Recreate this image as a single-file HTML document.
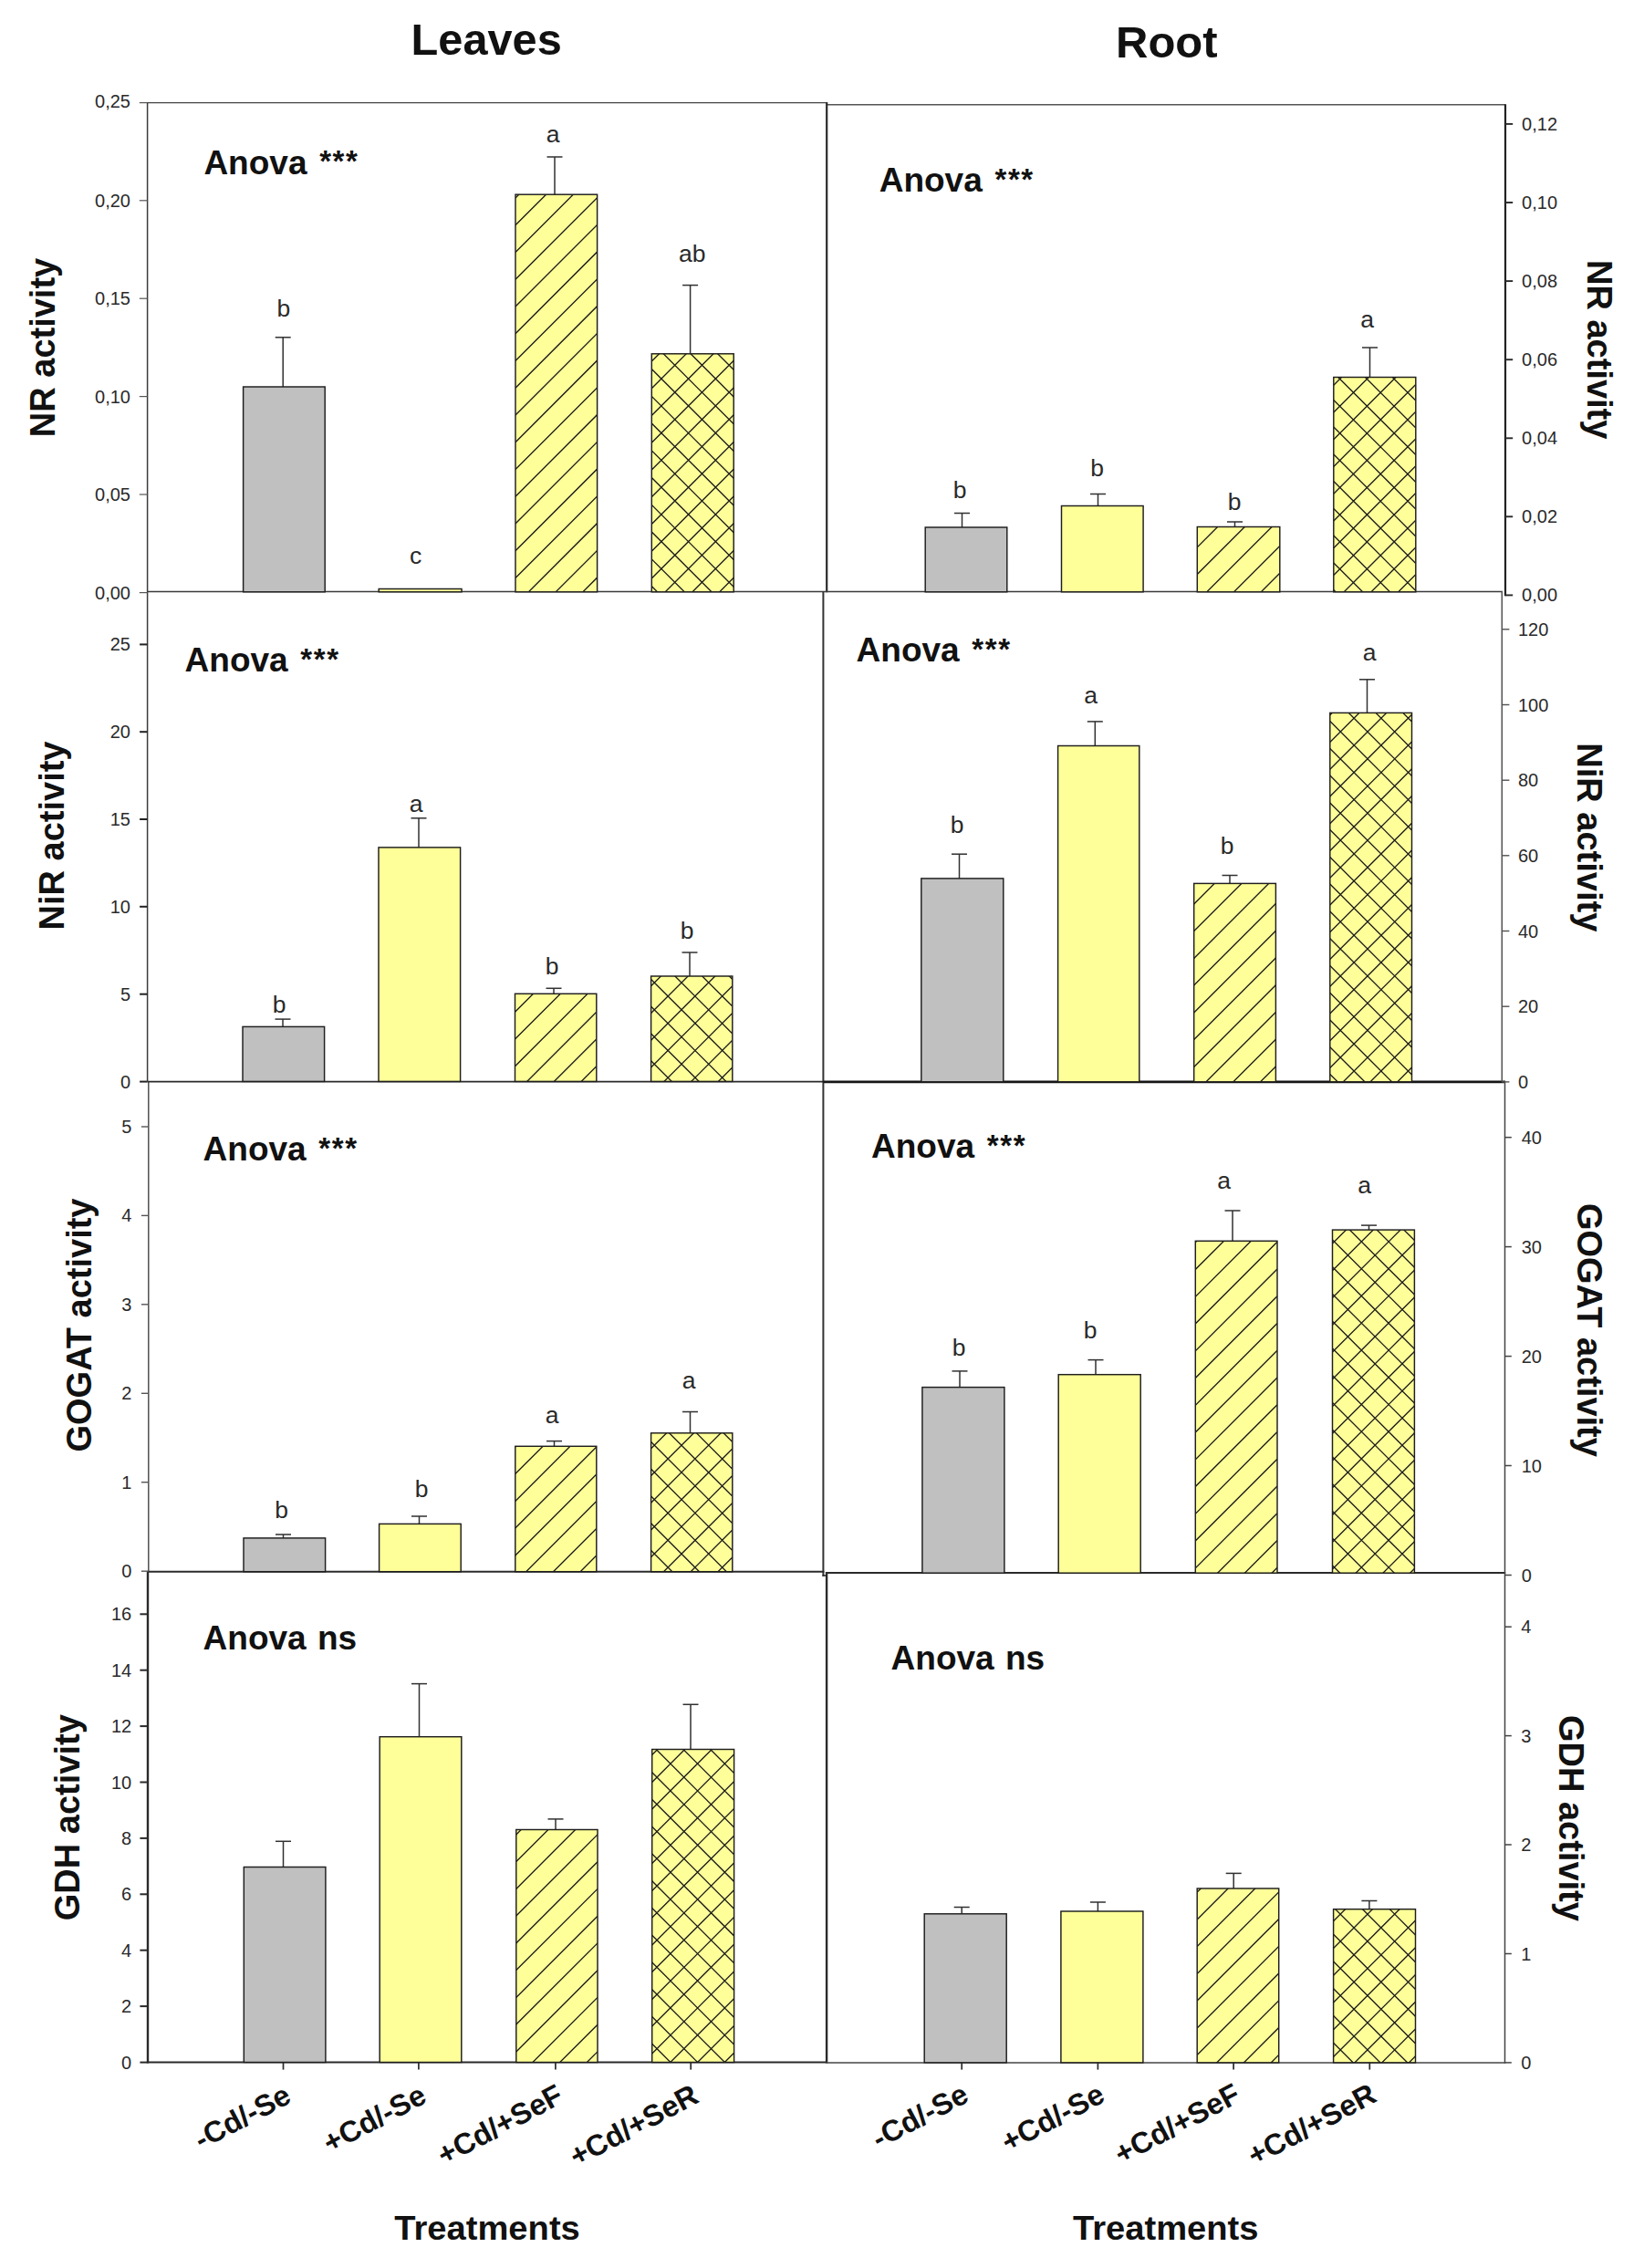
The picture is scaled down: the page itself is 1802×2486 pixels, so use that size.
<!DOCTYPE html>
<html lang="en">
<head>
<meta charset="utf-8">
<title>Enzyme activities in leaves and root</title>
<style>
html,body{margin:0;padding:0;background:#fff;}
svg{display:block;}
svg text{font-family:"Liberation Sans",sans-serif;}
</style>
</head>
<body>
<svg width="1802" height="2486" viewBox="0 0 1802 2486">
<rect x="0" y="0" width="1802" height="2486" fill="#ffffff"/>
<line x1="161.0" y1="112.6" x2="905.5" y2="112.6" stroke="#444" stroke-width="1.4"/>
<line x1="906.0" y1="114.8" x2="1650.0" y2="114.8" stroke="#555" stroke-width="1.5"/>
<line x1="161.6" y1="112.0" x2="161.6" y2="1185.6" stroke="#3a3a3a" stroke-width="1.5"/>
<line x1="162.8" y1="1185.6" x2="162.8" y2="1723.0" stroke="#444" stroke-width="1.4"/>
<line x1="162.0" y1="1722.0" x2="162.0" y2="2261.6" stroke="#2a2a2a" stroke-width="2.4"/>
<line x1="906.2" y1="112.0" x2="906.2" y2="649.3" stroke="#2a2a2a" stroke-width="2.2"/>
<line x1="902.4" y1="648.0" x2="902.4" y2="1727.8" stroke="#333" stroke-width="2.0"/>
<line x1="906.1" y1="1723.2" x2="906.1" y2="2261.6" stroke="#2a2a2a" stroke-width="2.4"/>
<line x1="901.4" y1="1727.0" x2="906.5" y2="1727.0" stroke="#2a2a2a" stroke-width="1.6"/>
<line x1="161.6" y1="648.5" x2="1647.0" y2="648.5" stroke="#3a3a3a" stroke-width="1.5"/>
<line x1="161.6" y1="1185.6" x2="902.4" y2="1185.6" stroke="#2a2a2a" stroke-width="1.9"/>
<line x1="902.4" y1="1185.9" x2="1650.0" y2="1185.9" stroke="#151515" stroke-width="2.9"/>
<line x1="162.0" y1="1722.8" x2="903.4" y2="1722.8" stroke="#2a2a2a" stroke-width="2.1"/>
<line x1="904.9" y1="1724.0" x2="1650.2" y2="1724.0" stroke="#2a2a2a" stroke-width="2.1"/>
<line x1="162.0" y1="2260.6" x2="906.0" y2="2260.6" stroke="#2a2a2a" stroke-width="2.0"/>
<line x1="906.0" y1="2260.9" x2="1650.2" y2="2260.9" stroke="#444" stroke-width="1.5"/>
<line x1="1650.0" y1="114.2" x2="1650.0" y2="653.2" stroke="#222" stroke-width="2.2"/>
<line x1="1646.3" y1="648.0" x2="1646.3" y2="1186.0" stroke="#505050" stroke-width="1.5"/>
<line x1="1649.5" y1="1185.0" x2="1649.5" y2="2261.6" stroke="#444" stroke-width="1.5"/>
<text x="450.6" y="60.3" font-size="48.7" font-weight="bold" fill="#111">Leaves</text>
<text x="1223.0" y="62.8" font-size="49" font-weight="bold" fill="#111">Root</text>
<text x="432.3" y="2454.8" font-size="36.8" font-weight="bold" textLength="203.5" lengthAdjust="spacingAndGlyphs" fill="#111">Treatments</text>
<text x="1176.0" y="2454.8" font-size="36.8" font-weight="bold" textLength="203.5" lengthAdjust="spacingAndGlyphs" fill="#111">Treatments</text>
<text x="59.9" y="381.0" font-size="38" font-weight="bold" text-anchor="middle" transform="rotate(-90 59.9 381.0)" fill="#111">NR activity</text>
<text x="69.6" y="916.0" font-size="38" font-weight="bold" text-anchor="middle" transform="rotate(-90 69.6 916.0)" fill="#111">NiR activity</text>
<text x="99.5" y="1452.5" font-size="38" font-weight="bold" text-anchor="middle" transform="rotate(-90 99.5 1452.5)" fill="#111">GOGAT activity</text>
<text x="87.5" y="1992.2" font-size="38" font-weight="bold" text-anchor="middle" transform="rotate(-90 87.5 1992.2)" fill="#111">GDH activity</text>
<text x="1740.2" y="383.2" font-size="38" font-weight="bold" text-anchor="middle" transform="rotate(90 1740.2 383.2)" fill="#111">NR activity</text>
<text x="1728.5" y="917.8" font-size="38" font-weight="bold" text-anchor="middle" transform="rotate(90 1728.5 917.8)" fill="#111">NiR activity</text>
<text x="1729.1" y="1457.9" font-size="38" font-weight="bold" text-anchor="middle" transform="rotate(90 1729.1 1457.9)" fill="#111">GOGAT activity</text>
<text x="1709.2" y="1992.9" font-size="38" font-weight="bold" text-anchor="middle" transform="rotate(90 1709.2 1992.9)" fill="#111">GDH activity</text>
<line x1="152.8" y1="112.6" x2="161.6" y2="112.6" stroke="#555" stroke-width="1.2"/>
<text x="143.0" y="118.3" font-size="20" text-anchor="end" fill="#2a2a2a">0,25</text>
<line x1="152.8" y1="219.8" x2="161.6" y2="219.8" stroke="#555" stroke-width="1.2"/>
<text x="143.0" y="226.8" font-size="20" text-anchor="end" fill="#2a2a2a">0,20</text>
<line x1="152.8" y1="327.2" x2="161.6" y2="327.2" stroke="#555" stroke-width="1.2"/>
<text x="143.0" y="334.2" font-size="20" text-anchor="end" fill="#2a2a2a">0,15</text>
<line x1="152.8" y1="434.6" x2="161.6" y2="434.6" stroke="#555" stroke-width="1.2"/>
<text x="143.0" y="441.6" font-size="20" text-anchor="end" fill="#2a2a2a">0,10</text>
<line x1="152.8" y1="542.0" x2="161.6" y2="542.0" stroke="#555" stroke-width="1.2"/>
<text x="143.0" y="549.0" font-size="20" text-anchor="end" fill="#2a2a2a">0,05</text>
<line x1="152.8" y1="649.6" x2="161.6" y2="649.6" stroke="#555" stroke-width="1.2"/>
<text x="143.0" y="656.6" font-size="20" text-anchor="end" fill="#2a2a2a">0,00</text>
<line x1="310.2" y1="424.0" x2="310.2" y2="369.8" stroke="#303030" stroke-width="1.5"/>
<line x1="301.7" y1="369.8" x2="318.7" y2="369.8" stroke="#303030" stroke-width="1.5"/>
<rect x="266.6" y="424.0" width="89.6" height="224.8" fill="#c0c0c0"/>
<rect x="266.6" y="424.0" width="89.6" height="224.8" fill="none" stroke="#1e1e1e" stroke-width="1.45"/>
<rect x="415.2" y="645.5" width="90.8" height="3.3" fill="#ffff99"/>
<rect x="415.2" y="645.5" width="90.8" height="3.3" fill="none" stroke="#1e1e1e" stroke-width="1.45"/>
<line x1="608.0" y1="213.2" x2="608.0" y2="172.0" stroke="#303030" stroke-width="1.5"/>
<line x1="599.5" y1="172.0" x2="616.5" y2="172.0" stroke="#303030" stroke-width="1.5"/>
<rect x="565.0" y="213.2" width="89.6" height="435.6" fill="#ffff99"/>
<clipPath id="c1"><rect x="565.0" y="213.2" width="89.6" height="435.6"/></clipPath>
<path clip-path="url(#c1)" d="M565.0 217.0L654.6 127.4M565.0 246.8L654.6 157.2M565.0 276.5L654.6 186.9M565.0 306.2L654.6 216.7M565.0 336.0L654.6 246.4M565.0 365.8L654.6 276.1M565.0 395.5L654.6 305.9M565.0 425.2L654.6 335.6M565.0 455.0L654.6 365.4M565.0 484.8L654.6 395.1M565.0 514.5L654.6 424.9M565.0 544.2L654.6 454.6M565.0 574.0L654.6 484.4M565.0 603.8L654.6 514.1M565.0 633.5L654.6 543.9M565.0 663.2L654.6 573.6M565.0 693.0L654.6 603.4M565.0 722.8L654.6 633.1" stroke="#1e1e1e" stroke-width="1.35" fill="none"/>
<rect x="565.0" y="213.2" width="89.6" height="435.6" fill="none" stroke="#1e1e1e" stroke-width="1.45"/>
<line x1="756.6" y1="387.8" x2="756.6" y2="312.6" stroke="#303030" stroke-width="1.5"/>
<line x1="748.1" y1="312.6" x2="765.1" y2="312.6" stroke="#303030" stroke-width="1.5"/>
<rect x="714.3" y="387.8" width="89.9" height="261.0" fill="#ffff99"/>
<clipPath id="c2"><rect x="714.3" y="387.8" width="89.9" height="261.0"/></clipPath>
<path clip-path="url(#c2)" d="M714.3 396.0L804.2 306.1M714.3 425.7L804.2 335.8M714.3 455.5L804.2 365.6M714.3 485.2L804.2 395.3M714.3 515.0L804.2 425.1M714.3 544.7L804.2 454.8M714.3 574.5L804.2 484.6M714.3 604.2L804.2 514.3M714.3 634.0L804.2 544.1M714.3 663.7L804.2 573.8M714.3 693.5L804.2 603.6M714.3 723.2L804.2 633.3M714.3 315.4L804.2 405.3M714.3 345.1L804.2 435.0M714.3 374.9L804.2 464.8M714.3 404.6L804.2 494.5M714.3 434.4L804.2 524.3M714.3 464.1L804.2 554.0M714.3 493.9L804.2 583.8M714.3 523.6L804.2 613.5M714.3 553.4L804.2 643.3M714.3 583.1L804.2 673.0M714.3 612.9L804.2 702.8M714.3 642.6L804.2 732.5" stroke="#1e1e1e" stroke-width="1.35" fill="none"/>
<rect x="714.3" y="387.8" width="89.9" height="261.0" fill="none" stroke="#1e1e1e" stroke-width="1.45"/>
<text x="310.8" y="347.2" font-size="26.5" text-anchor="middle" fill="#2a2a2a">b</text>
<text x="455.5" y="618.0" font-size="26.5" text-anchor="middle" fill="#2a2a2a">c</text>
<text x="606.0" y="155.6" font-size="26.5" text-anchor="middle" fill="#2a2a2a">a</text>
<text x="758.8" y="287.4" font-size="26.5" text-anchor="middle" fill="#2a2a2a">ab</text>
<text x="223.4" y="190.5" font-size="37" font-weight="bold" fill="#111">Anova <tspan dx="3.4" dy="-2.2" font-size="33" letter-spacing="1.6">***</tspan></text>
<line x1="153.1" y1="706.4" x2="161.6" y2="706.4" stroke="#222" stroke-width="2.0"/>
<text x="143.0" y="713.4" font-size="20" text-anchor="end" fill="#2a2a2a">25</text>
<line x1="153.1" y1="802.2" x2="161.6" y2="802.2" stroke="#222" stroke-width="2.0"/>
<text x="143.0" y="809.2" font-size="20" text-anchor="end" fill="#2a2a2a">20</text>
<line x1="153.1" y1="898.0" x2="161.6" y2="898.0" stroke="#222" stroke-width="2.0"/>
<text x="143.0" y="905.0" font-size="20" text-anchor="end" fill="#2a2a2a">15</text>
<line x1="153.1" y1="993.8" x2="161.6" y2="993.8" stroke="#222" stroke-width="2.0"/>
<text x="143.0" y="1000.8" font-size="20" text-anchor="end" fill="#2a2a2a">10</text>
<line x1="153.1" y1="1089.7" x2="161.6" y2="1089.7" stroke="#222" stroke-width="2.0"/>
<text x="143.0" y="1096.7" font-size="20" text-anchor="end" fill="#2a2a2a">5</text>
<line x1="153.1" y1="1185.6" x2="161.6" y2="1185.6" stroke="#222" stroke-width="2.0"/>
<text x="143.0" y="1192.6" font-size="20" text-anchor="end" fill="#2a2a2a">0</text>
<line x1="310.0" y1="1125.4" x2="310.0" y2="1117.1" stroke="#303030" stroke-width="1.5"/>
<line x1="301.5" y1="1117.1" x2="318.5" y2="1117.1" stroke="#303030" stroke-width="1.5"/>
<rect x="266.0" y="1125.4" width="89.6" height="60.0" fill="#c0c0c0"/>
<rect x="266.0" y="1125.4" width="89.6" height="60.0" fill="none" stroke="#1e1e1e" stroke-width="1.45"/>
<line x1="459.0" y1="928.9" x2="459.0" y2="896.8" stroke="#303030" stroke-width="1.5"/>
<line x1="450.5" y1="896.8" x2="467.5" y2="896.8" stroke="#303030" stroke-width="1.5"/>
<rect x="415.0" y="928.9" width="89.6" height="256.5" fill="#ffff99"/>
<rect x="415.0" y="928.9" width="89.6" height="256.5" fill="none" stroke="#1e1e1e" stroke-width="1.45"/>
<line x1="607.0" y1="1089.3" x2="607.0" y2="1083.3" stroke="#303030" stroke-width="1.5"/>
<line x1="598.5" y1="1083.3" x2="615.5" y2="1083.3" stroke="#303030" stroke-width="1.5"/>
<rect x="564.5" y="1089.3" width="89.3" height="96.1" fill="#ffff99"/>
<clipPath id="c3"><rect x="564.5" y="1089.3" width="89.3" height="96.1"/></clipPath>
<path clip-path="url(#c3)" d="M564.5 1109.3L653.8 1020.0M564.5 1139.1L653.8 1049.8M564.5 1168.8L653.8 1079.5M564.5 1198.6L653.8 1109.3M564.5 1228.3L653.8 1139.0M564.5 1258.1L653.8 1168.8" stroke="#1e1e1e" stroke-width="1.35" fill="none"/>
<rect x="564.5" y="1089.3" width="89.3" height="96.1" fill="none" stroke="#1e1e1e" stroke-width="1.45"/>
<line x1="756.0" y1="1070.0" x2="756.0" y2="1044.0" stroke="#303030" stroke-width="1.5"/>
<line x1="747.5" y1="1044.0" x2="764.5" y2="1044.0" stroke="#303030" stroke-width="1.5"/>
<rect x="713.6" y="1070.0" width="89.2" height="115.4" fill="#ffff99"/>
<clipPath id="c4"><rect x="713.6" y="1070.0" width="89.2" height="115.4"/></clipPath>
<path clip-path="url(#c4)" d="M713.6 1080.8L802.8 991.5M713.6 1110.5L802.8 1021.3M713.6 1140.2L802.8 1051.0M713.6 1170.0L802.8 1080.8M713.6 1199.8L802.8 1110.5M713.6 1229.5L802.8 1140.3M713.6 1259.2L802.8 1170.0M713.6 984.2L802.8 1073.4M713.6 1013.9L802.8 1103.1M713.6 1043.7L802.8 1132.9M713.6 1073.4L802.8 1162.6M713.6 1103.2L802.8 1192.4M713.6 1132.9L802.8 1222.1M713.6 1162.7L802.8 1251.9" stroke="#1e1e1e" stroke-width="1.35" fill="none"/>
<rect x="713.6" y="1070.0" width="89.2" height="115.4" fill="none" stroke="#1e1e1e" stroke-width="1.45"/>
<text x="306.0" y="1110.0" font-size="26.5" text-anchor="middle" fill="#2a2a2a">b</text>
<text x="456.0" y="890.0" font-size="26.5" text-anchor="middle" fill="#2a2a2a">a</text>
<text x="605.0" y="1068.0" font-size="26.5" text-anchor="middle" fill="#2a2a2a">b</text>
<text x="753.0" y="1029.0" font-size="26.5" text-anchor="middle" fill="#2a2a2a">b</text>
<text x="202.6" y="736.0" font-size="37" font-weight="bold" fill="#111">Anova <tspan dx="3.4" dy="-2.2" font-size="33" letter-spacing="1.6">***</tspan></text>
<line x1="154.9" y1="1235.0" x2="162.8" y2="1235.0" stroke="#555" stroke-width="1.4"/>
<text x="144.4" y="1242.0" font-size="20" text-anchor="end" fill="#2a2a2a">5</text>
<line x1="154.9" y1="1332.4" x2="162.8" y2="1332.4" stroke="#555" stroke-width="1.4"/>
<text x="144.4" y="1339.4" font-size="20" text-anchor="end" fill="#2a2a2a">4</text>
<line x1="154.9" y1="1429.8" x2="162.8" y2="1429.8" stroke="#555" stroke-width="1.4"/>
<text x="144.4" y="1436.8" font-size="20" text-anchor="end" fill="#2a2a2a">3</text>
<line x1="154.9" y1="1527.3" x2="162.8" y2="1527.3" stroke="#555" stroke-width="1.4"/>
<text x="144.4" y="1534.3" font-size="20" text-anchor="end" fill="#2a2a2a">2</text>
<line x1="154.9" y1="1624.7" x2="162.8" y2="1624.7" stroke="#555" stroke-width="1.4"/>
<text x="144.4" y="1631.7" font-size="20" text-anchor="end" fill="#2a2a2a">1</text>
<line x1="154.9" y1="1722.2" x2="162.8" y2="1722.2" stroke="#555" stroke-width="1.4"/>
<text x="144.4" y="1729.2" font-size="20" text-anchor="end" fill="#2a2a2a">0</text>
<line x1="310.5" y1="1685.9" x2="310.5" y2="1682.0" stroke="#303030" stroke-width="1.5"/>
<line x1="302.0" y1="1682.0" x2="319.0" y2="1682.0" stroke="#303030" stroke-width="1.5"/>
<rect x="267.0" y="1685.9" width="89.6" height="36.8" fill="#c0c0c0"/>
<rect x="267.0" y="1685.9" width="89.6" height="36.8" fill="none" stroke="#1e1e1e" stroke-width="1.45"/>
<line x1="459.5" y1="1670.4" x2="459.5" y2="1662.0" stroke="#303030" stroke-width="1.5"/>
<line x1="451.0" y1="1662.0" x2="468.0" y2="1662.0" stroke="#303030" stroke-width="1.5"/>
<rect x="415.6" y="1670.4" width="89.6" height="52.3" fill="#ffff99"/>
<rect x="415.6" y="1670.4" width="89.6" height="52.3" fill="none" stroke="#1e1e1e" stroke-width="1.45"/>
<line x1="607.5" y1="1585.3" x2="607.5" y2="1579.6" stroke="#303030" stroke-width="1.5"/>
<line x1="599.0" y1="1579.6" x2="616.0" y2="1579.6" stroke="#303030" stroke-width="1.5"/>
<rect x="564.8" y="1585.3" width="89.0" height="137.4" fill="#ffff99"/>
<clipPath id="c5"><rect x="564.8" y="1585.3" width="89.0" height="137.4"/></clipPath>
<path clip-path="url(#c5)" d="M564.8 1585.9L653.8 1496.9M564.8 1615.6L653.8 1526.6M564.8 1645.4L653.8 1556.4M564.8 1675.1L653.8 1586.1M564.8 1704.9L653.8 1615.9M564.8 1734.6L653.8 1645.6M564.8 1764.4L653.8 1675.4M564.8 1794.1L653.8 1705.1" stroke="#1e1e1e" stroke-width="1.35" fill="none"/>
<rect x="564.8" y="1585.3" width="89.0" height="137.4" fill="none" stroke="#1e1e1e" stroke-width="1.45"/>
<line x1="756.5" y1="1570.8" x2="756.5" y2="1547.5" stroke="#303030" stroke-width="1.5"/>
<line x1="748.0" y1="1547.5" x2="765.0" y2="1547.5" stroke="#303030" stroke-width="1.5"/>
<rect x="713.6" y="1570.8" width="89.2" height="151.9" fill="#ffff99"/>
<clipPath id="c6"><rect x="713.6" y="1570.8" width="89.2" height="151.9"/></clipPath>
<path clip-path="url(#c6)" d="M713.6 1587.8L802.8 1498.6M713.6 1617.6L802.8 1528.4M713.6 1647.3L802.8 1558.1M713.6 1677.1L802.8 1587.9M713.6 1706.8L802.8 1617.6M713.6 1736.6L802.8 1647.4M713.6 1766.3L802.8 1677.1M713.6 1796.1L802.8 1706.9M713.6 1491.2L802.8 1580.5M713.6 1521.0L802.8 1610.2M713.6 1550.8L802.8 1640.0M713.6 1580.5L802.8 1669.7M713.6 1610.2L802.8 1699.5M713.6 1640.0L802.8 1729.2M713.6 1669.8L802.8 1759.0M713.6 1699.5L802.8 1788.7" stroke="#1e1e1e" stroke-width="1.35" fill="none"/>
<rect x="713.6" y="1570.8" width="89.2" height="151.9" fill="none" stroke="#1e1e1e" stroke-width="1.45"/>
<text x="308.5" y="1664.0" font-size="26.5" text-anchor="middle" fill="#2a2a2a">b</text>
<text x="462.0" y="1641.0" font-size="26.5" text-anchor="middle" fill="#2a2a2a">b</text>
<text x="605.0" y="1560.0" font-size="26.5" text-anchor="middle" fill="#2a2a2a">a</text>
<text x="755.0" y="1522.0" font-size="26.5" text-anchor="middle" fill="#2a2a2a">a</text>
<text x="222.6" y="1272.4" font-size="37" font-weight="bold" fill="#111">Anova <tspan dx="3.4" dy="-2.2" font-size="33" letter-spacing="1.6">***</tspan></text>
<line x1="153.4" y1="1769.3" x2="162.0" y2="1769.3" stroke="#2a2a2a" stroke-width="2.0"/>
<text x="144.2" y="1776.3" font-size="20" text-anchor="end" fill="#2a2a2a">16</text>
<line x1="153.4" y1="1830.7" x2="162.0" y2="1830.7" stroke="#2a2a2a" stroke-width="2.0"/>
<text x="144.2" y="1837.7" font-size="20" text-anchor="end" fill="#2a2a2a">14</text>
<line x1="153.4" y1="1892.1" x2="162.0" y2="1892.1" stroke="#2a2a2a" stroke-width="2.0"/>
<text x="144.2" y="1899.1" font-size="20" text-anchor="end" fill="#2a2a2a">12</text>
<line x1="153.4" y1="1953.5" x2="162.0" y2="1953.5" stroke="#2a2a2a" stroke-width="2.0"/>
<text x="144.2" y="1960.5" font-size="20" text-anchor="end" fill="#2a2a2a">10</text>
<line x1="153.4" y1="2014.9" x2="162.0" y2="2014.9" stroke="#2a2a2a" stroke-width="2.0"/>
<text x="144.2" y="2021.9" font-size="20" text-anchor="end" fill="#2a2a2a">8</text>
<line x1="153.4" y1="2076.3" x2="162.0" y2="2076.3" stroke="#2a2a2a" stroke-width="2.0"/>
<text x="144.2" y="2083.3" font-size="20" text-anchor="end" fill="#2a2a2a">6</text>
<line x1="153.4" y1="2137.7" x2="162.0" y2="2137.7" stroke="#2a2a2a" stroke-width="2.0"/>
<text x="144.2" y="2144.7" font-size="20" text-anchor="end" fill="#2a2a2a">4</text>
<line x1="153.4" y1="2199.1" x2="162.0" y2="2199.1" stroke="#2a2a2a" stroke-width="2.0"/>
<text x="144.2" y="2206.1" font-size="20" text-anchor="end" fill="#2a2a2a">2</text>
<line x1="153.4" y1="2260.6" x2="162.0" y2="2260.6" stroke="#2a2a2a" stroke-width="2.0"/>
<text x="144.2" y="2267.6" font-size="20" text-anchor="end" fill="#2a2a2a">0</text>
<line x1="310.5" y1="2046.5" x2="310.5" y2="2018.3" stroke="#303030" stroke-width="1.5"/>
<line x1="302.0" y1="2018.3" x2="319.0" y2="2018.3" stroke="#303030" stroke-width="1.5"/>
<rect x="267.3" y="2046.5" width="89.6" height="214.0" fill="#c0c0c0"/>
<rect x="267.3" y="2046.5" width="89.6" height="214.0" fill="none" stroke="#1e1e1e" stroke-width="1.45"/>
<line x1="459.5" y1="1903.7" x2="459.5" y2="1845.6" stroke="#303030" stroke-width="1.5"/>
<line x1="451.0" y1="1845.6" x2="468.0" y2="1845.6" stroke="#303030" stroke-width="1.5"/>
<rect x="416.2" y="1903.7" width="89.6" height="356.8" fill="#ffff99"/>
<rect x="416.2" y="1903.7" width="89.6" height="356.8" fill="none" stroke="#1e1e1e" stroke-width="1.45"/>
<line x1="609.0" y1="2005.5" x2="609.0" y2="1993.9" stroke="#303030" stroke-width="1.5"/>
<line x1="600.5" y1="1993.9" x2="617.5" y2="1993.9" stroke="#303030" stroke-width="1.5"/>
<rect x="565.8" y="2005.5" width="89.2" height="255.0" fill="#ffff99"/>
<clipPath id="c7"><rect x="565.8" y="2005.5" width="89.2" height="255.0"/></clipPath>
<path clip-path="url(#c7)" d="M565.8 2010.9L655.0 1921.7M565.8 2040.6L655.0 1951.4M565.8 2070.4L655.0 1981.2M565.8 2100.1L655.0 2010.9M565.8 2129.9L655.0 2040.7M565.8 2159.6L655.0 2070.4M565.8 2189.4L655.0 2100.2M565.8 2219.1L655.0 2129.9M565.8 2248.9L655.0 2159.7M565.8 2278.6L655.0 2189.4M565.8 2308.4L655.0 2219.2M565.8 2338.1L655.0 2248.9" stroke="#1e1e1e" stroke-width="1.35" fill="none"/>
<rect x="565.8" y="2005.5" width="89.2" height="255.0" fill="none" stroke="#1e1e1e" stroke-width="1.45"/>
<line x1="757.0" y1="1917.5" x2="757.0" y2="1868.3" stroke="#303030" stroke-width="1.5"/>
<line x1="748.5" y1="1868.3" x2="765.5" y2="1868.3" stroke="#303030" stroke-width="1.5"/>
<rect x="714.7" y="1917.5" width="89.9" height="343.0" fill="#ffff99"/>
<clipPath id="c8"><rect x="714.7" y="1917.5" width="89.9" height="343.0"/></clipPath>
<path clip-path="url(#c8)" d="M714.7 1923.6L804.6 1833.7M714.7 1953.4L804.6 1863.5M714.7 1983.1L804.6 1893.2M714.7 2012.9L804.6 1923.0M714.7 2042.6L804.6 1952.7M714.7 2072.4L804.6 1982.5M714.7 2102.1L804.6 2012.2M714.7 2131.9L804.6 2042.0M714.7 2161.6L804.6 2071.7M714.7 2191.4L804.6 2101.5M714.7 2221.1L804.6 2131.2M714.7 2250.9L804.6 2161.0M714.7 2280.6L804.6 2190.7M714.7 2310.4L804.6 2220.5M714.7 2340.1L804.6 2250.2M714.7 1853.5L804.6 1943.5M714.7 1883.3L804.6 1973.2M714.7 1913.0L804.6 2003.0M714.7 1942.8L804.6 2032.7M714.7 1972.5L804.6 2062.4M714.7 2002.3L804.6 2092.2M714.7 2032.0L804.6 2121.9M714.7 2061.8L804.6 2151.7M714.7 2091.6L804.6 2181.5M714.7 2121.3L804.6 2211.2M714.7 2151.1L804.6 2241.0M714.7 2180.8L804.6 2270.7M714.7 2210.6L804.6 2300.5M714.7 2240.3L804.6 2330.2" stroke="#1e1e1e" stroke-width="1.35" fill="none"/>
<rect x="714.7" y="1917.5" width="89.9" height="343.0" fill="none" stroke="#1e1e1e" stroke-width="1.45"/>
<text x="222.6" y="1807.9" font-size="37" font-weight="bold" fill="#111">Anova <tspan dx="2">ns</tspan></text>
<line x1="1650.0" y1="135.9" x2="1658.2" y2="135.9" stroke="#2a2a2a" stroke-width="1.9"/>
<text x="1668.1" y="142.9" font-size="20" fill="#2a2a2a">0,12</text>
<line x1="1650.0" y1="222.0" x2="1658.2" y2="222.0" stroke="#2a2a2a" stroke-width="1.9"/>
<text x="1668.1" y="229.0" font-size="20" fill="#2a2a2a">0,10</text>
<line x1="1650.0" y1="308.1" x2="1658.2" y2="308.1" stroke="#2a2a2a" stroke-width="1.9"/>
<text x="1668.1" y="315.1" font-size="20" fill="#2a2a2a">0,08</text>
<line x1="1650.0" y1="394.2" x2="1658.2" y2="394.2" stroke="#2a2a2a" stroke-width="1.9"/>
<text x="1668.1" y="401.2" font-size="20" fill="#2a2a2a">0,06</text>
<line x1="1650.0" y1="480.3" x2="1658.2" y2="480.3" stroke="#2a2a2a" stroke-width="1.9"/>
<text x="1668.1" y="487.3" font-size="20" fill="#2a2a2a">0,04</text>
<line x1="1650.0" y1="566.3" x2="1658.2" y2="566.3" stroke="#2a2a2a" stroke-width="1.9"/>
<text x="1668.1" y="573.3" font-size="20" fill="#2a2a2a">0,02</text>
<line x1="1650.0" y1="652.4" x2="1658.2" y2="652.4" stroke="#2a2a2a" stroke-width="1.9"/>
<text x="1668.1" y="659.4" font-size="20" fill="#2a2a2a">0,00</text>
<line x1="1054.5" y1="578.0" x2="1054.5" y2="562.5" stroke="#303030" stroke-width="1.5"/>
<line x1="1046.0" y1="562.5" x2="1063.0" y2="562.5" stroke="#303030" stroke-width="1.5"/>
<rect x="1014.2" y="578.0" width="89.6" height="70.8" fill="#c0c0c0"/>
<rect x="1014.2" y="578.0" width="89.6" height="70.8" fill="none" stroke="#1e1e1e" stroke-width="1.45"/>
<line x1="1203.5" y1="554.5" x2="1203.5" y2="541.5" stroke="#303030" stroke-width="1.5"/>
<line x1="1195.0" y1="541.5" x2="1212.0" y2="541.5" stroke="#303030" stroke-width="1.5"/>
<rect x="1163.5" y="554.5" width="89.6" height="94.3" fill="#ffff99"/>
<rect x="1163.5" y="554.5" width="89.6" height="94.3" fill="none" stroke="#1e1e1e" stroke-width="1.45"/>
<line x1="1353.5" y1="577.5" x2="1353.5" y2="572.0" stroke="#303030" stroke-width="1.5"/>
<line x1="1345.0" y1="572.0" x2="1362.0" y2="572.0" stroke="#303030" stroke-width="1.5"/>
<rect x="1312.3" y="577.5" width="90.5" height="71.3" fill="#ffff99"/>
<clipPath id="c9"><rect x="1312.3" y="577.5" width="90.5" height="71.3"/></clipPath>
<path clip-path="url(#c9)" d="M1312.3 599.8L1402.8 509.3M1312.3 629.5L1402.8 539.0M1312.3 659.3L1402.8 568.8M1312.3 689.0L1402.8 598.5M1312.3 718.8L1402.8 628.3" stroke="#1e1e1e" stroke-width="1.35" fill="none"/>
<rect x="1312.3" y="577.5" width="90.5" height="71.3" fill="none" stroke="#1e1e1e" stroke-width="1.45"/>
<line x1="1501.5" y1="413.5" x2="1501.5" y2="381.0" stroke="#303030" stroke-width="1.5"/>
<line x1="1493.0" y1="381.0" x2="1510.0" y2="381.0" stroke="#303030" stroke-width="1.5"/>
<rect x="1461.8" y="413.5" width="90.0" height="235.3" fill="#ffff99"/>
<clipPath id="c10"><rect x="1461.8" y="413.5" width="90.0" height="235.3"/></clipPath>
<path clip-path="url(#c10)" d="M1461.8 422.2L1551.8 332.2M1461.8 452.0L1551.8 362.0M1461.8 481.7L1551.8 391.7M1461.8 511.5L1551.8 421.5M1461.8 541.2L1551.8 451.2M1461.8 571.0L1551.8 481.0M1461.8 600.7L1551.8 510.7M1461.8 630.5L1551.8 540.5M1461.8 660.2L1551.8 570.2M1461.8 690.0L1551.8 600.0M1461.8 719.7L1551.8 629.7M1461.8 349.1L1551.8 439.1M1461.8 378.9L1551.8 468.9M1461.8 408.6L1551.8 498.6M1461.8 438.4L1551.8 528.4M1461.8 468.1L1551.8 558.1M1461.8 497.9L1551.8 587.9M1461.8 527.6L1551.8 617.6M1461.8 557.4L1551.8 647.4M1461.8 587.1L1551.8 677.1M1461.8 616.9L1551.8 706.9M1461.8 646.6L1551.8 736.6" stroke="#1e1e1e" stroke-width="1.35" fill="none"/>
<rect x="1461.8" y="413.5" width="90.0" height="235.3" fill="none" stroke="#1e1e1e" stroke-width="1.45"/>
<text x="1052.0" y="546.0" font-size="26.5" text-anchor="middle" fill="#2a2a2a">b</text>
<text x="1202.5" y="522.0" font-size="26.5" text-anchor="middle" fill="#2a2a2a">b</text>
<text x="1353.0" y="559.0" font-size="26.5" text-anchor="middle" fill="#2a2a2a">b</text>
<text x="1498.5" y="359.0" font-size="26.5" text-anchor="middle" fill="#2a2a2a">a</text>
<text x="963.7" y="209.7" font-size="37" font-weight="bold" fill="#111">Anova <tspan dx="3.4" dy="-2.2" font-size="33" letter-spacing="1.6">***</tspan></text>
<line x1="1646.3" y1="689.8" x2="1654.4" y2="689.8" stroke="#505050" stroke-width="1.4"/>
<text x="1664.0" y="696.8" font-size="20" fill="#2a2a2a">120</text>
<line x1="1646.3" y1="772.5" x2="1654.4" y2="772.5" stroke="#505050" stroke-width="1.4"/>
<text x="1664.0" y="779.5" font-size="20" fill="#2a2a2a">100</text>
<line x1="1646.3" y1="855.2" x2="1654.4" y2="855.2" stroke="#505050" stroke-width="1.4"/>
<text x="1664.0" y="862.2" font-size="20" fill="#2a2a2a">80</text>
<line x1="1646.3" y1="937.8" x2="1654.4" y2="937.8" stroke="#505050" stroke-width="1.4"/>
<text x="1664.0" y="944.8" font-size="20" fill="#2a2a2a">60</text>
<line x1="1646.3" y1="1020.5" x2="1654.4" y2="1020.5" stroke="#505050" stroke-width="1.4"/>
<text x="1664.0" y="1027.5" font-size="20" fill="#2a2a2a">40</text>
<line x1="1646.3" y1="1103.2" x2="1654.4" y2="1103.2" stroke="#505050" stroke-width="1.4"/>
<text x="1664.0" y="1110.2" font-size="20" fill="#2a2a2a">20</text>
<line x1="1646.3" y1="1185.9" x2="1654.4" y2="1185.9" stroke="#505050" stroke-width="1.4"/>
<text x="1664.0" y="1192.9" font-size="20" fill="#2a2a2a">0</text>
<line x1="1051.5" y1="962.9" x2="1051.5" y2="936.2" stroke="#303030" stroke-width="1.5"/>
<line x1="1043.0" y1="936.2" x2="1060.0" y2="936.2" stroke="#303030" stroke-width="1.5"/>
<rect x="1009.8" y="962.9" width="90.0" height="222.9" fill="#c0c0c0"/>
<rect x="1009.8" y="962.9" width="90.0" height="222.9" fill="none" stroke="#1e1e1e" stroke-width="1.45"/>
<line x1="1200.3" y1="817.5" x2="1200.3" y2="790.9" stroke="#303030" stroke-width="1.5"/>
<line x1="1191.8" y1="790.9" x2="1208.8" y2="790.9" stroke="#303030" stroke-width="1.5"/>
<rect x="1159.6" y="817.5" width="89.2" height="368.3" fill="#ffff99"/>
<rect x="1159.6" y="817.5" width="89.2" height="368.3" fill="none" stroke="#1e1e1e" stroke-width="1.45"/>
<line x1="1348.0" y1="968.4" x2="1348.0" y2="959.5" stroke="#303030" stroke-width="1.5"/>
<line x1="1339.5" y1="959.5" x2="1356.5" y2="959.5" stroke="#303030" stroke-width="1.5"/>
<rect x="1308.7" y="968.4" width="89.7" height="217.4" fill="#ffff99"/>
<clipPath id="c11"><rect x="1308.7" y="968.4" width="89.7" height="217.4"/></clipPath>
<path clip-path="url(#c11)" d="M1308.7 990.9L1398.4 901.2M1308.7 1020.6L1398.4 930.9M1308.7 1050.4L1398.4 960.7M1308.7 1080.1L1398.4 990.4M1308.7 1109.9L1398.4 1020.2M1308.7 1139.6L1398.4 1049.9M1308.7 1169.4L1398.4 1079.7M1308.7 1199.1L1398.4 1109.4M1308.7 1228.9L1398.4 1139.2M1308.7 1258.6L1398.4 1168.9" stroke="#1e1e1e" stroke-width="1.35" fill="none"/>
<rect x="1308.7" y="968.4" width="89.7" height="217.4" fill="none" stroke="#1e1e1e" stroke-width="1.45"/>
<line x1="1498.5" y1="781.4" x2="1498.5" y2="744.8" stroke="#303030" stroke-width="1.5"/>
<line x1="1490.0" y1="744.8" x2="1507.0" y2="744.8" stroke="#303030" stroke-width="1.5"/>
<rect x="1457.8" y="781.4" width="89.7" height="404.4" fill="#ffff99"/>
<clipPath id="c12"><rect x="1457.8" y="781.4" width="89.7" height="404.4"/></clipPath>
<path clip-path="url(#c12)" d="M1457.8 783.8L1547.5 694.1M1457.8 813.5L1547.5 723.8M1457.8 843.3L1547.5 753.6M1457.8 873.0L1547.5 783.3M1457.8 902.8L1547.5 813.1M1457.8 932.5L1547.5 842.8M1457.8 962.3L1547.5 872.6M1457.8 992.0L1547.5 902.3M1457.8 1021.8L1547.5 932.1M1457.8 1051.5L1547.5 961.8M1457.8 1081.3L1547.5 991.6M1457.8 1111.0L1547.5 1021.3M1457.8 1140.8L1547.5 1051.1M1457.8 1170.5L1547.5 1080.8M1457.8 1200.3L1547.5 1110.6M1457.8 1230.0L1547.5 1140.3M1457.8 1259.8L1547.5 1170.1M1457.8 701.4L1547.5 791.1M1457.8 731.1L1547.5 820.9M1457.8 760.9L1547.5 850.6M1457.8 790.6L1547.5 880.4M1457.8 820.4L1547.5 910.1M1457.8 850.1L1547.5 939.9M1457.8 879.9L1547.5 969.6M1457.8 909.6L1547.5 999.4M1457.8 939.4L1547.5 1029.1M1457.8 969.1L1547.5 1058.8M1457.8 998.9L1547.5 1088.6M1457.8 1028.7L1547.5 1118.4M1457.8 1058.4L1547.5 1148.1M1457.8 1088.2L1547.5 1177.9M1457.8 1117.9L1547.5 1207.6M1457.8 1147.7L1547.5 1237.4M1457.8 1177.4L1547.5 1267.1" stroke="#1e1e1e" stroke-width="1.35" fill="none"/>
<rect x="1457.8" y="781.4" width="89.7" height="404.4" fill="none" stroke="#1e1e1e" stroke-width="1.45"/>
<text x="1049.0" y="913.0" font-size="26.5" text-anchor="middle" fill="#2a2a2a">b</text>
<text x="1195.5" y="771.0" font-size="26.5" text-anchor="middle" fill="#2a2a2a">a</text>
<text x="1345.0" y="936.0" font-size="26.5" text-anchor="middle" fill="#2a2a2a">b</text>
<text x="1501.0" y="724.0" font-size="26.5" text-anchor="middle" fill="#2a2a2a">a</text>
<text x="938.6" y="725.4" font-size="37" font-weight="bold" fill="#111">Anova <tspan dx="3.4" dy="-2.2" font-size="33" letter-spacing="1.6">***</tspan></text>
<line x1="1649.5" y1="1246.7" x2="1656.8" y2="1246.7" stroke="#444" stroke-width="1.5"/>
<text x="1667.7" y="1253.7" font-size="20" fill="#2a2a2a">40</text>
<line x1="1649.5" y1="1366.6" x2="1656.8" y2="1366.6" stroke="#444" stroke-width="1.5"/>
<text x="1667.7" y="1373.6" font-size="20" fill="#2a2a2a">30</text>
<line x1="1649.5" y1="1486.6" x2="1656.8" y2="1486.6" stroke="#444" stroke-width="1.5"/>
<text x="1667.7" y="1493.6" font-size="20" fill="#2a2a2a">20</text>
<line x1="1649.5" y1="1606.5" x2="1656.8" y2="1606.5" stroke="#444" stroke-width="1.5"/>
<text x="1667.7" y="1613.5" font-size="20" fill="#2a2a2a">10</text>
<line x1="1649.5" y1="1726.5" x2="1656.8" y2="1726.5" stroke="#444" stroke-width="1.5"/>
<text x="1667.7" y="1733.5" font-size="20" fill="#2a2a2a">0</text>
<line x1="1052.0" y1="1520.6" x2="1052.0" y2="1502.9" stroke="#303030" stroke-width="1.5"/>
<line x1="1043.5" y1="1502.9" x2="1060.5" y2="1502.9" stroke="#303030" stroke-width="1.5"/>
<rect x="1010.9" y="1520.6" width="90.0" height="203.6" fill="#c0c0c0"/>
<rect x="1010.9" y="1520.6" width="90.0" height="203.6" fill="none" stroke="#1e1e1e" stroke-width="1.45"/>
<line x1="1201.0" y1="1506.7" x2="1201.0" y2="1490.6" stroke="#303030" stroke-width="1.5"/>
<line x1="1192.5" y1="1490.6" x2="1209.5" y2="1490.6" stroke="#303030" stroke-width="1.5"/>
<rect x="1160.2" y="1506.7" width="90.0" height="217.5" fill="#ffff99"/>
<rect x="1160.2" y="1506.7" width="90.0" height="217.5" fill="none" stroke="#1e1e1e" stroke-width="1.45"/>
<line x1="1351.0" y1="1360.3" x2="1351.0" y2="1327.0" stroke="#303030" stroke-width="1.5"/>
<line x1="1342.5" y1="1327.0" x2="1359.5" y2="1327.0" stroke="#303030" stroke-width="1.5"/>
<rect x="1310.3" y="1360.3" width="89.7" height="363.9" fill="#ffff99"/>
<clipPath id="c13"><rect x="1310.3" y="1360.3" width="89.7" height="363.9"/></clipPath>
<path clip-path="url(#c13)" d="M1310.3 1361.8L1400.0 1272.1M1310.3 1391.5L1400.0 1301.8M1310.3 1421.3L1400.0 1331.6M1310.3 1451.0L1400.0 1361.3M1310.3 1480.8L1400.0 1391.1M1310.3 1510.5L1400.0 1420.8M1310.3 1540.3L1400.0 1450.6M1310.3 1570.0L1400.0 1480.3M1310.3 1599.8L1400.0 1510.1M1310.3 1629.5L1400.0 1539.8M1310.3 1659.3L1400.0 1569.6M1310.3 1689.0L1400.0 1599.3M1310.3 1718.8L1400.0 1629.1M1310.3 1748.5L1400.0 1658.8M1310.3 1778.3L1400.0 1688.6M1310.3 1808.0L1400.0 1718.3" stroke="#1e1e1e" stroke-width="1.35" fill="none"/>
<rect x="1310.3" y="1360.3" width="89.7" height="363.9" fill="none" stroke="#1e1e1e" stroke-width="1.45"/>
<line x1="1500.5" y1="1348.1" x2="1500.5" y2="1343.1" stroke="#303030" stroke-width="1.5"/>
<line x1="1492.0" y1="1343.1" x2="1509.0" y2="1343.1" stroke="#303030" stroke-width="1.5"/>
<rect x="1460.5" y="1348.1" width="89.9" height="376.1" fill="#ffff99"/>
<clipPath id="c14"><rect x="1460.5" y="1348.1" width="89.9" height="376.1"/></clipPath>
<path clip-path="url(#c14)" d="M1460.5 1363.1L1550.4 1273.2M1460.5 1392.8L1550.4 1302.9M1460.5 1422.6L1550.4 1332.7M1460.5 1452.3L1550.4 1362.4M1460.5 1482.1L1550.4 1392.2M1460.5 1511.8L1550.4 1421.9M1460.5 1541.6L1550.4 1451.7M1460.5 1571.3L1550.4 1481.4M1460.5 1601.1L1550.4 1511.2M1460.5 1630.8L1550.4 1540.9M1460.5 1660.6L1550.4 1570.7M1460.5 1690.3L1550.4 1600.4M1460.5 1720.1L1550.4 1630.2M1460.5 1749.8L1550.4 1659.9M1460.5 1779.6L1550.4 1689.7M1460.5 1809.3L1550.4 1719.4M1460.5 1269.7L1550.4 1359.6M1460.5 1299.4L1550.4 1389.3M1460.5 1329.2L1550.4 1419.1M1460.5 1358.9L1550.4 1448.8M1460.5 1388.7L1550.4 1478.6M1460.5 1418.4L1550.4 1508.3M1460.5 1448.2L1550.4 1538.1M1460.5 1477.9L1550.4 1567.8M1460.5 1507.7L1550.4 1597.6M1460.5 1537.4L1550.4 1627.3M1460.5 1567.2L1550.4 1657.1M1460.5 1596.9L1550.4 1686.8M1460.5 1626.7L1550.4 1716.6M1460.5 1656.4L1550.4 1746.3M1460.5 1686.2L1550.4 1776.1M1460.5 1715.9L1550.4 1805.8" stroke="#1e1e1e" stroke-width="1.35" fill="none"/>
<rect x="1460.5" y="1348.1" width="89.9" height="376.1" fill="none" stroke="#1e1e1e" stroke-width="1.45"/>
<text x="1051.0" y="1486.0" font-size="26.5" text-anchor="middle" fill="#2a2a2a">b</text>
<text x="1195.0" y="1467.0" font-size="26.5" text-anchor="middle" fill="#2a2a2a">b</text>
<text x="1341.5" y="1303.0" font-size="26.5" text-anchor="middle" fill="#2a2a2a">a</text>
<text x="1495.5" y="1308.0" font-size="26.5" text-anchor="middle" fill="#2a2a2a">a</text>
<text x="955.0" y="1268.7" font-size="37" font-weight="bold" fill="#111">Anova <tspan dx="3.4" dy="-2.2" font-size="33" letter-spacing="1.6">***</tspan></text>
<line x1="1649.5" y1="1783.2" x2="1656.8" y2="1783.2" stroke="#444" stroke-width="1.5"/>
<text x="1667.3" y="1790.2" font-size="20" fill="#2a2a2a">4</text>
<line x1="1649.5" y1="1902.6" x2="1656.8" y2="1902.6" stroke="#444" stroke-width="1.5"/>
<text x="1667.3" y="1909.6" font-size="20" fill="#2a2a2a">3</text>
<line x1="1649.5" y1="2022.0" x2="1656.8" y2="2022.0" stroke="#444" stroke-width="1.5"/>
<text x="1667.3" y="2029.0" font-size="20" fill="#2a2a2a">2</text>
<line x1="1649.5" y1="2141.5" x2="1656.8" y2="2141.5" stroke="#444" stroke-width="1.5"/>
<text x="1667.3" y="2148.5" font-size="20" fill="#2a2a2a">1</text>
<line x1="1649.5" y1="2260.9" x2="1656.8" y2="2260.9" stroke="#444" stroke-width="1.5"/>
<text x="1667.3" y="2267.9" font-size="20" fill="#2a2a2a">0</text>
<line x1="1054.2" y1="2097.8" x2="1054.2" y2="2090.5" stroke="#303030" stroke-width="1.5"/>
<line x1="1045.7" y1="2090.5" x2="1062.7" y2="2090.5" stroke="#303030" stroke-width="1.5"/>
<rect x="1013.2" y="2097.8" width="90.0" height="163.1" fill="#c0c0c0"/>
<rect x="1013.2" y="2097.8" width="90.0" height="163.1" fill="none" stroke="#1e1e1e" stroke-width="1.45"/>
<line x1="1203.4" y1="2095.0" x2="1203.4" y2="2085.0" stroke="#303030" stroke-width="1.5"/>
<line x1="1194.9" y1="2085.0" x2="1211.9" y2="2085.0" stroke="#303030" stroke-width="1.5"/>
<rect x="1162.9" y="2095.0" width="90.0" height="165.9" fill="#ffff99"/>
<rect x="1162.9" y="2095.0" width="90.0" height="165.9" fill="none" stroke="#1e1e1e" stroke-width="1.45"/>
<line x1="1352.2" y1="2070.0" x2="1352.2" y2="2053.4" stroke="#303030" stroke-width="1.5"/>
<line x1="1343.7" y1="2053.4" x2="1360.7" y2="2053.4" stroke="#303030" stroke-width="1.5"/>
<rect x="1312.2" y="2070.0" width="89.5" height="190.9" fill="#ffff99"/>
<clipPath id="c15"><rect x="1312.2" y="2070.0" width="89.5" height="190.9"/></clipPath>
<path clip-path="url(#c15)" d="M1312.2 2074.1L1401.7 1984.6M1312.2 2103.9L1401.7 2014.4M1312.2 2133.6L1401.7 2044.1M1312.2 2163.4L1401.7 2073.9M1312.2 2193.1L1401.7 2103.6M1312.2 2222.9L1401.7 2133.4M1312.2 2252.6L1401.7 2163.1M1312.2 2282.4L1401.7 2192.9M1312.2 2312.1L1401.7 2222.6M1312.2 2341.9L1401.7 2252.4" stroke="#1e1e1e" stroke-width="1.35" fill="none"/>
<rect x="1312.2" y="2070.0" width="89.5" height="190.9" fill="none" stroke="#1e1e1e" stroke-width="1.45"/>
<line x1="1500.9" y1="2092.7" x2="1500.9" y2="2083.5" stroke="#303030" stroke-width="1.5"/>
<line x1="1492.4" y1="2083.5" x2="1509.4" y2="2083.5" stroke="#303030" stroke-width="1.5"/>
<rect x="1461.6" y="2092.7" width="89.9" height="168.2" fill="#ffff99"/>
<clipPath id="c16"><rect x="1461.6" y="2092.7" width="89.9" height="168.2"/></clipPath>
<path clip-path="url(#c16)" d="M1461.6 2105.7L1551.5 2015.8M1461.6 2135.5L1551.5 2045.6M1461.6 2165.2L1551.5 2075.3M1461.6 2195.0L1551.5 2105.1M1461.6 2224.7L1551.5 2134.8M1461.6 2254.5L1551.5 2164.6M1461.6 2284.2L1551.5 2194.3M1461.6 2314.0L1551.5 2224.1M1461.6 2343.7L1551.5 2253.8M1461.6 2031.0L1551.5 2120.9M1461.6 2060.8L1551.5 2150.7M1461.6 2090.6L1551.5 2180.5M1461.6 2120.3L1551.5 2210.2M1461.6 2150.1L1551.5 2240.0M1461.6 2179.8L1551.5 2269.7M1461.6 2209.6L1551.5 2299.5M1461.6 2239.3L1551.5 2329.2" stroke="#1e1e1e" stroke-width="1.35" fill="none"/>
<rect x="1461.6" y="2092.7" width="89.9" height="168.2" fill="none" stroke="#1e1e1e" stroke-width="1.45"/>
<text x="976.6" y="1830.4" font-size="37" font-weight="bold" fill="#111">Anova <tspan dx="2">ns</tspan></text>
<line x1="310.5" y1="2260.5" x2="310.5" y2="2268.6" stroke="#2a2a2a" stroke-width="1.7"/>
<line x1="458.9" y1="2260.5" x2="458.9" y2="2268.6" stroke="#2a2a2a" stroke-width="1.7"/>
<line x1="608.9" y1="2260.5" x2="608.9" y2="2268.6" stroke="#2a2a2a" stroke-width="1.7"/>
<line x1="757.2" y1="2260.5" x2="757.2" y2="2268.6" stroke="#2a2a2a" stroke-width="1.7"/>
<line x1="1054.2" y1="2260.5" x2="1054.2" y2="2268.6" stroke="#2a2a2a" stroke-width="1.7"/>
<line x1="1203.4" y1="2260.5" x2="1203.4" y2="2268.6" stroke="#2a2a2a" stroke-width="1.7"/>
<line x1="1352.1" y1="2260.5" x2="1352.1" y2="2268.6" stroke="#2a2a2a" stroke-width="1.7"/>
<line x1="1501.3" y1="2260.5" x2="1501.3" y2="2268.6" stroke="#2a2a2a" stroke-width="1.7"/>
<text x="321.0" y="2303.5" font-size="32.5" font-weight="bold" text-anchor="end" transform="rotate(-28 321.0 2303.5)" fill="#111">-Cd/-Se</text>
<text x="469.4" y="2303.5" font-size="32.5" font-weight="bold" text-anchor="end" transform="rotate(-28 469.4 2303.5)" fill="#111">+Cd/-Se</text>
<text x="619.4" y="2303.5" font-size="32.5" font-weight="bold" text-anchor="end" transform="rotate(-28 619.4 2303.5)" fill="#111">+Cd/+SeF</text>
<text x="767.7" y="2303.5" font-size="32.5" font-weight="bold" text-anchor="end" transform="rotate(-28 767.7 2303.5)" fill="#111">+Cd/+SeR</text>
<text x="1063.7" y="2302.5" font-size="32.5" font-weight="bold" text-anchor="end" transform="rotate(-28 1063.7 2302.5)" fill="#111">-Cd/-Se</text>
<text x="1212.9" y="2302.5" font-size="32.5" font-weight="bold" text-anchor="end" transform="rotate(-28 1212.9 2302.5)" fill="#111">+Cd/-Se</text>
<text x="1361.6" y="2302.5" font-size="32.5" font-weight="bold" text-anchor="end" transform="rotate(-28 1361.6 2302.5)" fill="#111">+Cd/+SeF</text>
<text x="1510.8" y="2302.5" font-size="32.5" font-weight="bold" text-anchor="end" transform="rotate(-28 1510.8 2302.5)" fill="#111">+Cd/+SeR</text>
</svg>
</body>
</html>
